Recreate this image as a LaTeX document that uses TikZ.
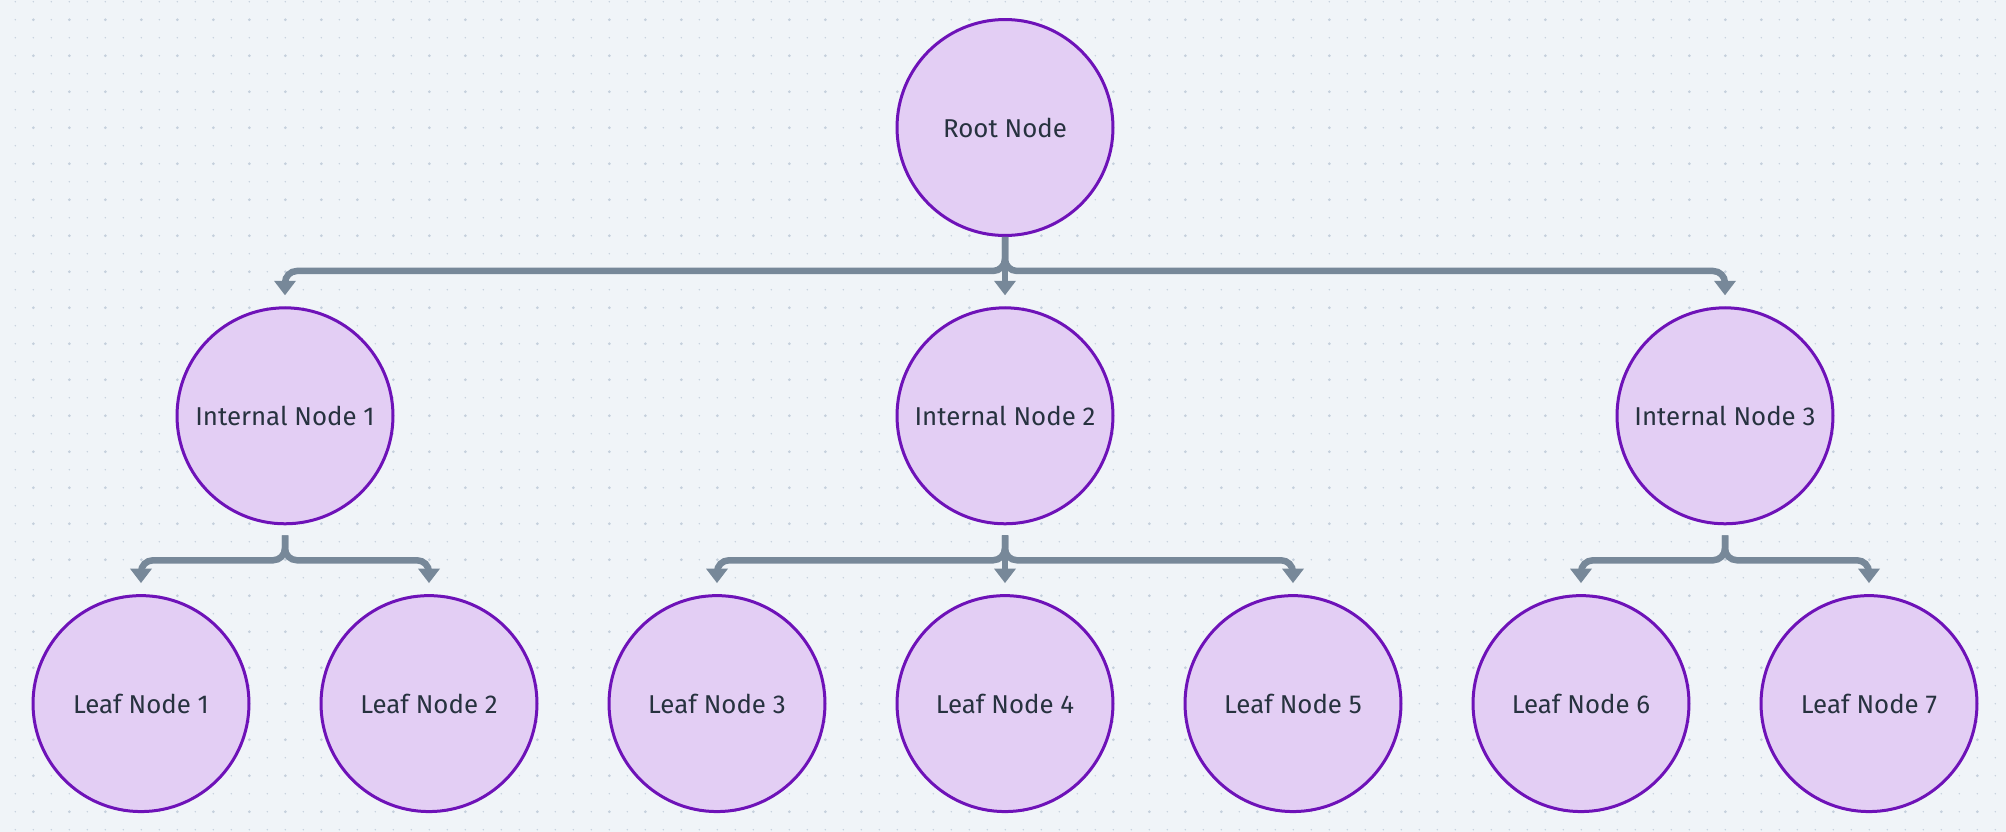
\documentclass[tikz,border=0pt]{standalone}
\usepackage{fontspec}
\setmainfont{Fira Sans}
\usetikzlibrary{arrows.meta,calc}
\definecolor{bgc}{HTML}{F0F4F8}
\definecolor{dotc}{HTML}{C5D0DD}
\definecolor{ndfill}{HTML}{E3CEF4}
\definecolor{ndline}{HTML}{6E12B8}
\definecolor{ndtext}{HTML}{27323F}
\definecolor{linkc}{HTML}{778899}
\def\nodesize{4.32cm}
\def\lvlgap{36}
\def\tipgap{11}

\begin{document}
\begin{tikzpicture}[x=0.02cm,y=-0.02cm,
	nd/.style={circle,draw=ndline,fill=ndfill,line width=0.06cm,minimum size=\nodesize,inner sep=0pt,text=ndtext,font=\fontsize{14.7}{17}\selectfont},
	link/.style={draw=linkc,line width=0.13cm,rounded corners=0.24cm,-{Triangle[width=0.42cm,length=0.29cm]}}
	]
	\useasboundingbox (0,0) rectangle (2006,832);
	\fill[bgc] (0,0) rectangle (2006,832);
	% dotted grid
	\foreach \i in {0,...,111} \foreach \j in {0,...,46} \fill[dotc] (15.3+18*\i,1.7+18*\j) circle (0.8);
	\foreach \i in {0,...,55} \foreach \j in {0,...,22} \fill[dotc] (33.3+36*\i,19.7+36*\j) circle (1.5);
	
	\node[nd] (root) at (1005,127.5) {Root Node};
	
	\node[nd] (in1) at (285,415.8) {Internal Node 1};
	\node[nd] (in2) at (1005,415.8) {Internal Node 2};
	\node[nd] (in3) at (1725,415.8) {Internal Node 3};
	
	\foreach \k in {1,...,7}
		\node[nd] (lf\k) at (141+288*\k-288,703.6) {Leaf Node \k};
	
	% root to internal nodes
	\foreach \c in {in1,in3}
		\draw[link] (root.south) -- ++(0,\lvlgap-2) -| ($(\c.north)+(0,-\tipgap)$);
	\draw[link] (root.south) -- ($(in2.north)+(0,-\tipgap)$);
	
	% internal nodes to leaves
	\foreach \p/\c in {in1/lf1,in1/lf2,in2/lf3,in2/lf5,in3/lf6,in3/lf7}
		\draw[link] ($(\p.south)+(0,10)$) -- ++(0,25) -| ($(\c.north)+(0,-\tipgap)$);
	\draw[link] ($(in2.south)+(0,10)$) -- ($(lf4.north)+(0,-\tipgap)$);
\end{tikzpicture}
\end{document}
